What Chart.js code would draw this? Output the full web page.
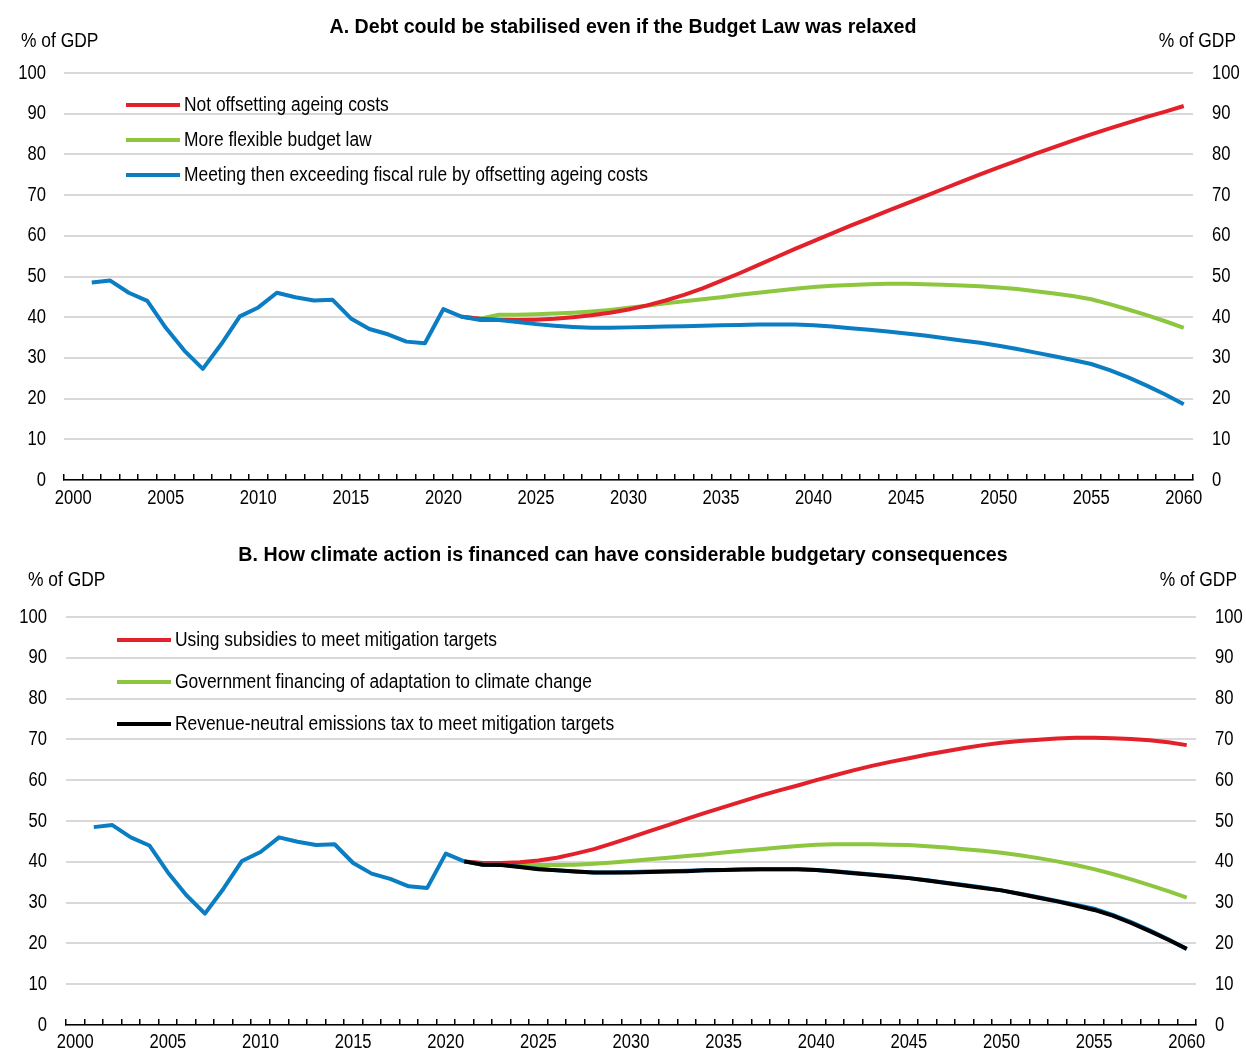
<!DOCTYPE html>
<html>
<head>
<meta charset="utf-8">
<script src="https://cdn.jsdelivr.net/npm/chart.js@4.4.0/dist/chart.umd.min.js"></script>
<style>
  body { margin: 0; background: #fff; }
  .panel { position: absolute; left: 0; width: 1246px; height: 528px; }
  #panel-a { top: 0; }
  #panel-b { top: 528px; }
</style>
</head>
<body>
<div class="panel" id="panel-a"><canvas id="chart-a" width="1246" height="528"></canvas></div>
<div class="panel" id="panel-b"><canvas id="chart-b" width="1246" height="528"></canvas></div>
<script>
const FONT = '"Liberation Sans Narrow", "Arial Narrow", "Liberation Sans", Arial, sans-serif';

// years 2000-2060 on the x axis
const years = [];
for (let y = 2000; y <= 2060; y++) years.push(String(y));

// debt, % of GDP, 2000-2021
const debtHistory = [null, 48.5, 49.0, 46.0, 44.0, 37.4, 31.8, 27.3, 33.4, 40.2, 42.4,
  46.0, 44.9, 44.1, 44.3, 39.7, 37.1, 35.8, 34.0, 33.6, 42.0, 40.1];

// scenarios, 2022-2060
const notOffsetting = [39.6, 39.4, 39.3, 39.4, 39.6, 40.0, 40.5, 41.1, 41.9, 42.9,
  44.1, 45.5, 47.1, 48.9, 50.8, 52.8, 54.8, 56.8, 58.7, 60.6,
  62.5, 64.3, 66.1, 67.9, 69.7, 71.5, 73.3, 75.1, 76.8, 78.5,
  80.2, 81.8, 83.4, 84.9, 86.4, 87.8, 89.2, 90.5, 91.9];
const flexibleLaw = [39.6, 40.6, 40.6, 40.7, 40.9, 41.1, 41.4, 41.8, 42.3, 42.8,
  43.4, 43.9, 44.4, 44.9, 45.5, 46.0, 46.5, 47.0, 47.4, 47.7,
  47.9, 48.1, 48.2, 48.2, 48.1, 48.0, 47.8, 47.6, 47.3, 46.9,
  46.4, 45.8, 45.2, 44.4, 43.2, 41.9, 40.5, 39.0, 37.4];
const meetingRule = [39.3, 39.3, 38.8, 38.3, 37.9, 37.6, 37.4, 37.4, 37.5, 37.6,
  37.7, 37.8, 37.9, 38.0, 38.1, 38.2, 38.2, 38.2, 38.0, 37.7,
  37.3, 36.9, 36.5, 36.0, 35.5, 34.9, 34.3, 33.7, 33.0, 32.2,
  31.3, 30.4, 29.5, 28.5, 27.0, 25.2, 23.2, 21.0, 18.6];
const subsidies = [39.7, 39.7, 39.9, 40.3, 41.0, 42.0, 43.1, 44.5, 46.0, 47.5,
  49.0, 50.5, 52.0, 53.4, 54.8, 56.2, 57.5, 58.7, 60.0, 61.2,
  62.4, 63.5, 64.5, 65.4, 66.3, 67.1, 67.9, 68.6, 69.2, 69.6,
  69.9, 70.2, 70.4, 70.4, 70.3, 70.1, 69.8, 69.3, 68.6];
const adaptation = [39.6, 39.4, 39.3, 39.2, 39.2, 39.3, 39.5, 39.8, 40.2, 40.6,
  41.0, 41.4, 41.8, 42.3, 42.7, 43.1, 43.5, 43.9, 44.2, 44.3,
  44.3, 44.3, 44.2, 44.1, 43.8, 43.5, 43.1, 42.7, 42.2, 41.6,
  40.9, 40.1, 39.2, 38.2, 37.0, 35.7, 34.3, 32.8, 31.2];
const emissionsTax = [39.3, 39.2, 38.7, 38.2, 37.9, 37.6, 37.4, 37.4, 37.4, 37.5,
  37.6, 37.7, 37.9, 38.0, 38.1, 38.2, 38.2, 38.2, 38.0, 37.6,
  37.2, 36.8, 36.4, 36.0, 35.4, 34.8, 34.2, 33.6, 33.0, 32.1,
  31.2, 30.3, 29.3, 28.2, 26.8, 25.0, 23.0, 20.9, 18.7];

const yTicks = [0, 10, 20, 30, 40, 50, 60, 70, 80, 90, 100];

const RED = '#e3212b';
const GREEN = '#8dc63f';
const BLUE = '#0b7dc3';
const BLACK = '#000000';

// projection series start from the last observed year
const lastObs = debtHistory[debtHistory.length - 1];
function projection(values) {
  const pad = new Array(debtHistory.length - 1).fill(null);
  return pad.concat([lastObs], values);
}
function fullPath(values) {
  return debtHistory.concat(values);
}

function line(label, data, color, order, extra) {
  return Object.assign({
    label, data, order,
    borderColor: color,
    backgroundColor: color,
    borderWidth: 4,
    pointRadius: 0,
    tension: 0,
    borderJoinStyle: 'round',
    fill: false
  }, extra || {});
}

// narrow lettering: squeeze every fillText horizontally around its anchor
const narrowText = {
  id: 'narrowText',
  beforeInit(chart) {
    const ctx = chart.ctx;
    const fill = ctx.fillText;
    ctx.textScaleX = 0.83;
    ctx.fillText = function (text, x, y) {
      this.save();
      this.translate(x, y);
      this.scale(this.textScaleX, 1);
      fill.call(this, text, 0, 0);
      this.restore();
    };
  }
};

// title, unit labels and the in-plot legend
const panelText = {
  id: 'panelText',
  afterDraw(chart, args, o) {
    const ctx = chart.ctx;
    ctx.save();
    ctx.fillStyle = '#000';
    ctx.textBaseline = 'middle';
    ctx.font = 'bold 21px ' + FONT;
    ctx.textAlign = 'center';
    ctx.textScaleX = 0.935;
    ctx.fillText(o.title, 623, o.titleY);
    ctx.textScaleX = 0.87;
    ctx.font = '20px ' + FONT;
    ctx.textAlign = 'left';
    ctx.fillText('% of GDP', o.unitLeft, o.unitY);
    ctx.textAlign = 'right';
    ctx.fillText('% of GDP', o.unitRight, o.unitY);
    ctx.textAlign = 'left';
    let y = o.legendY;
    chart.data.datasets.forEach(ds => {
      if (ds.noLegend) return;
      ctx.strokeStyle = ds.borderColor;
      ctx.lineWidth = 4;
      ctx.beginPath();
      ctx.moveTo(o.legendX, y);
      ctx.lineTo(o.legendX + 54, y);
      ctx.stroke();
      ctx.fillText(ds.label, o.legendX + 58, y);
      y += o.legendGap;
    });
    ctx.textScaleX = 0.83;
    ctx.restore();
  }
};

function makeOptions(cfg) {
  const tickFont = { family: FONT, size: 20 };
  return {
    responsive: false,
    animation: false,
    layout: { padding: { top: cfg.top, left: 0, right: 0, bottom: 0 } },
    plugins: {
      legend: { display: false },
      tooltip: { enabled: false },
      panelText: cfg.text
    },
    scales: {
      x: {
        type: 'category',
        offset: true,
        grid: { offset: true, drawOnChartArea: false, color: '#000', lineWidth: 1.5, tickLength: -6 },
        border: { color: '#000', width: 1.5 },
        ticks: {
          autoSkip: false, maxRotation: 0, minRotation: 0,
          padding: cfg.xPad, color: '#000', font: tickFont,
          callback(v, i) { return i % 5 === 0 ? this.getLabelForValue(v) : ''; }
        },
        afterFit(s) { s.height = cfg.xHeight; }
      },
      y: {
        position: 'left', min: 0, max: 100,
        afterBuildTicks(s) { s.ticks = yTicks.map(v => ({ value: v })); },
        ticks: { padding: cfg.yPad, color: '#000', font: tickFont },
        grid: { color: '#d9d9d9', lineWidth: 2, drawTicks: false },
        border: { display: false },
        afterFit(s) { s.width = cfg.left; }
      },
      y2: {
        position: 'right', min: 0, max: 100,
        afterBuildTicks(s) { s.ticks = yTicks.map(v => ({ value: v })); },
        ticks: { padding: cfg.y2Pad, color: '#000', font: tickFont },
        grid: { display: false, drawTicks: false },
        border: { display: false },
        afterFit(s) { s.width = cfg.right; }
      }
    }
  };
}

new Chart(document.getElementById('chart-a'), {
  type: 'line',
  data: {
    labels: years,
    datasets: [
      line('Not offsetting ageing costs', projection(notOffsetting), RED, 1),
      line('More flexible budget law', projection(flexibleLaw), GREEN, 2),
      line('Meeting then exceeding fiscal rule by offsetting ageing costs', fullPath(meetingRule), BLUE, 0)
    ]
  },
  options: makeOptions({
    top: 73, xHeight: 48, xPad: 12, yPad: 18, y2Pad: 19, left: 64, right: 53,
    text: {
      title: 'A. Debt could be stabilised even if the Budget Law was relaxed', titleY: 27,
      unitLeft: 21, unitRight: 1236, unitY: 41,
      legendX: 126, legendY: 105, legendGap: 35
    }
  }),
  plugins: [narrowText, panelText]
});

new Chart(document.getElementById('chart-b'), {
  type: 'line',
  data: {
    labels: years,
    datasets: [
      line('Using subsidies to meet mitigation targets', projection(subsidies), RED, 2),
      line('Government financing of adaptation to climate change', projection(adaptation), GREEN, 3),
      line('Revenue-neutral emissions tax to meet mitigation targets', projection(emissionsTax), BLACK, 0),
      line('Debt', fullPath(meetingRule), BLUE, 1, { noLegend: true })
    ]
  },
  options: makeOptions({
    top: 89, xHeight: 27, xPad: 11, yPad: 19, y2Pad: 19, left: 66, right: 50,
    text: {
      title: 'B. How climate action is financed can have considerable budgetary consequences', titleY: 27,
      unitLeft: 28, unitRight: 1237, unitY: 52,
      legendX: 117, legendY: 112, legendGap: 42
    }
  }),
  plugins: [narrowText, panelText]
});
</script>
</body>
</html>
